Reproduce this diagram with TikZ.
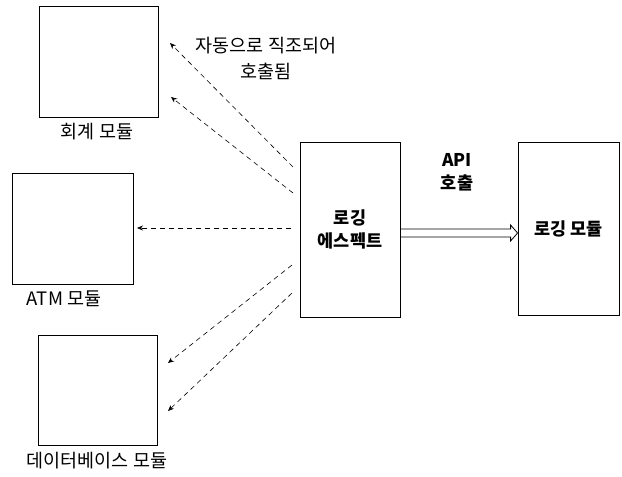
\documentclass[tikz,border=0pt]{standalone}
\usepackage{fontspec}
\setmainfont{Noto Sans CJK KR}
\usetikzlibrary{arrows.meta}
\begin{document}
\begin{tikzpicture}[x=1pt,y=-1pt,
  box/.style={draw,line width=0.8pt},
  lbl/.style={font=\fontsize{18.5}{26}\selectfont, align=center, inner sep=0pt},
  blbl/.style={font=\fontsize{17.5}{23}\selectfont\bfseries, align=center, inner sep=0pt},
  dasharrow/.style={line width=0.6pt, dash pattern=on 5pt off 4pt, -{Stealth[length=6pt,width=5pt]}},
  apiarrow/.style={line width=0.8pt, line join=miter}]
\useasboundingbox (0,0) rectangle (622,477);
% boxes
\draw[box] (39,6) rectangle (158,117);
\node (acc) at (98.5,61.5) {};
\draw[box] (12,173) rectangle (133,284);
\node (atm) at (72.5,228.5) {};
\draw[box] (38,335) rectangle (157,445);
\node (db) at (97.5,390) {};
\node[box, minimum width=100pt, minimum height=175pt, inner sep=0pt] (asp) at (350,229.5) {};
\node[box, minimum width=101pt, minimum height=173pt, inner sep=0pt] (logm) at (568.5,228.5) {};
% labels
\node[lbl] (accl) at (97,132) {회계 모듈};
\node[lbl] (atml) at (64,299) {ATM 모듈};
\node[lbl] (dbl) at (97,461) {데이터베이스 모듈};
\node[lbl] (auto) at (266,58) {자동으로 직조되어\\호출됨};
\node[blbl] (aspl) at (asp) {로깅\\에스펙트};
\node[blbl] (logl) at (logm) {로깅 모듈};
\node[blbl] (api) at (457,172) {API\\호출};
% dashed arrows
\coordinate (s1) at (293,167); \coordinate (t1) at (170,43);
\coordinate (s2) at (293,193); \coordinate (t2) at (171,97);
\coordinate (s3) at (291,228); \coordinate (t3) at (137,228);
\coordinate (s4) at (292,265); \coordinate (t4) at (168,363);
\coordinate (s5) at (292,293); \coordinate (t5) at (168,411);
\foreach \i in {1,...,5} {\draw[dasharrow] (s\i) -- (t\i);}
% API call arrow (hollow double arrow)
\coordinate (tip) at (logm.west |- 0,233);
\draw[apiarrow] (asp.east |- 0,229) -- ([xshift=-7pt,yshift=4pt]tip) -- ([xshift=-7pt,yshift=8pt]tip)
  -- (tip) -- ([xshift=-7pt,yshift=-8pt]tip) -- ([xshift=-7pt,yshift=-4pt]tip) -- (asp.east |- 0,237);
\end{tikzpicture}
\end{document}
